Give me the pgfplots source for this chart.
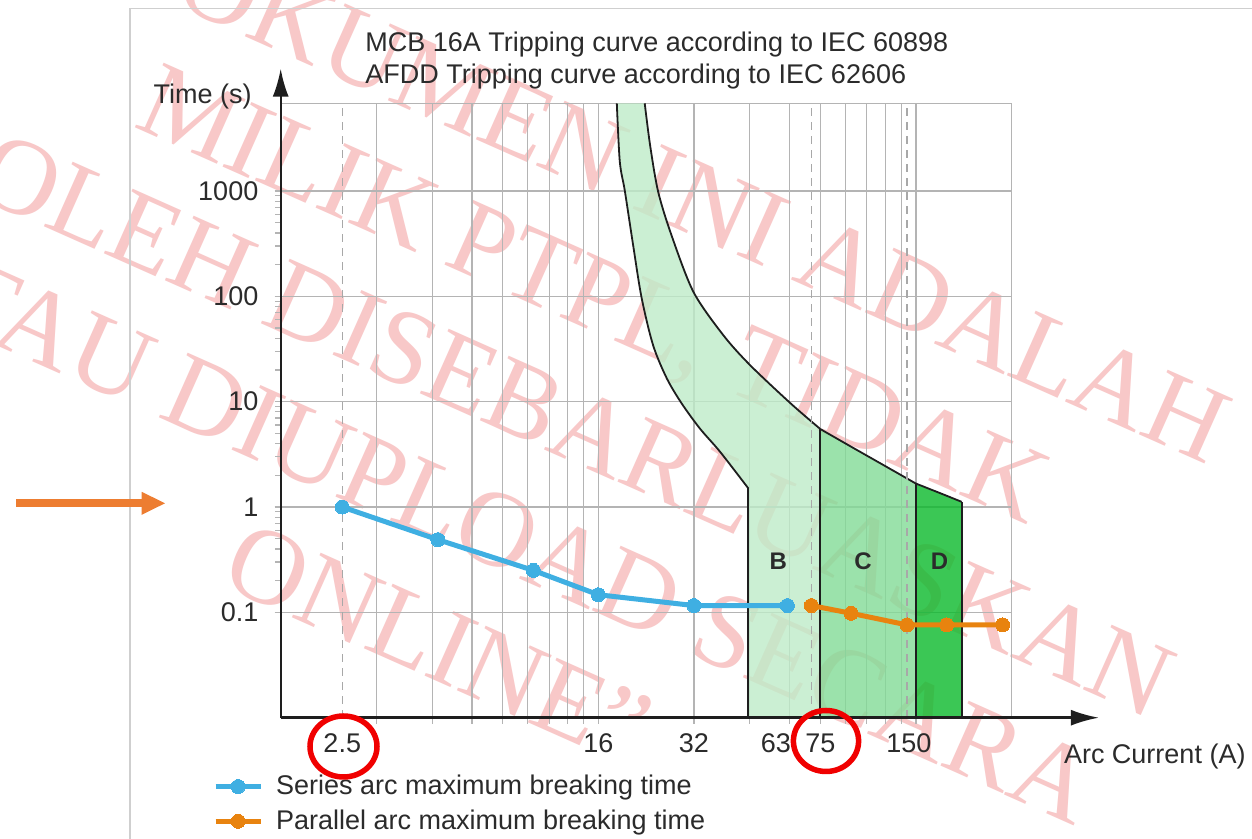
\documentclass[border=0pt]{standalone}
\usepackage{pgfplots}
\pgfplotsset{compat=1.18}
\usetikzlibrary{arrows.meta}
\usepackage{fontspec}
\setmainfont{Liberation Sans}
\newfontfamily\wmfont{Liberation Serif}
\definecolor{gridc}{HTML}{B4B4B4}
\definecolor{dashc}{HTML}{A8A8A8}
\definecolor{framec}{HTML}{CFCFCF}
\definecolor{txt}{HTML}{2B2B2B}
\definecolor{axc}{HTML}{1E1E1E}
\definecolor{zonec}{HTML}{1E1E1E}
\definecolor{serc}{HTML}{3FAFE2}
\definecolor{parc}{HTML}{E8830F}
\definecolor{Bc}{HTML}{BFECC9}
\definecolor{Cc}{HTML}{82DB96}
\definecolor{Dc}{HTML}{0BBA2B}
\definecolor{arrowc}{HTML}{ED7D31}
\definecolor{circc}{HTML}{F00000}
\definecolor{wmc}{HTML}{F8C8C8}
\begin{document}
\begin{tikzpicture}
\useasboundingbox (-140.35pt,-60.65pt) rectangle (485.65pt,358.85pt);
\fill[white] (-140.35pt,-60.65pt) rectangle (485.65pt,358.85pt);
% watermark (drawn underneath the chart)
\begin{scope}[blend group=multiply]
\node[rotate=-24, align=center, text=wmc, inner sep=0pt,
      font=\wmfont\fontsize{54}{63.9}\selectfont] at (130.9pt,153.85pt)
  {“DOKUMEN INI ADALAH\\MILIK PTPL, TIDAK\\BOLEH DISEBARLUASKAN\\ATAU DIUPLOAD SECARA\\ONLINE”};
\end{scope}
\draw[framec, line width=0.6pt] (-75.35pt,-60.65pt) -- (-75.35pt,354.7pt) -- (485.65pt,354.7pt);
\begin{axis}[
  scale only axis, width=365.4pt, height=307.2pt,
  xmode=log, ymode=log,
  xmin=1.6, xmax=320, ymin=0.01, ymax=6800,
  clip=false,
  axis line style={draw=gridc, line width=0.6pt},
  xtick={3.2,4.8,6.4,8,9.6,11.2,12.8,14.4,16,32,48,64,80,96,112,128,144,160},
  xticklabels={},
  minor xtick={}, minor ytick={},
  ytick={0.1,1,10,100,1000},
  yticklabels={0.1,1,10,100,1000},
  grid=major, major grid style={draw=gridc, line width=0.6pt},
  tick align=outside, major tick length=3pt,
  tick style={draw=gridc, line width=0.6pt},
  xtick pos=left, ytick pos=left,
  extra x ticks={2.5,16,32,58,80,152},
  extra x tick labels={2.5,16,32,63,75,150},
  extra x tick style={grid=none, major tick length=0pt},
  tick label style={font=\fontsize{13.5}{16}\selectfont, text=txt},
  yticklabel style={inner sep=0pt, xshift=-8pt},
  xticklabel style={inner sep=0pt, yshift=-8pt},
  legend style={at={(axis description cs:-0.093,-0.1403)}, anchor=west,
    draw=none, fill=none, inner sep=0pt,
    font=\fontsize{13.5}{16}\selectfont, text=txt,
    nodes={inner sep=2pt}, row sep=2.1pt,
    /tikz/every odd column/.append style={column sep=4.5pt}},
  legend cell align=left,
  legend image code/.code={\draw[mark repeat=2,mark phase=2] plot coordinates {(0pt,0pt) (11.25pt,0pt) (22.5pt,0pt)};},
]
% zone fills
\addplot[fill=Bc, fill opacity=0.8, draw=none, forget plot] coordinates {
 (18.3,6800) (18.7,1900) (19.4,1000) (20.6,305) (21.9,97) (23.8,34.4) (26.3,16.6) (29.3,9.6) (33.4,5.57) (38.7,3.34) (47.5,1.5)
 (47.5,0.01) (80,0.01) (80,5.5)
 (64.6,9.6) (48.1,22.2) (39.6,42.8) (31.9,110) (27.2,380) (24.7,980) (23.3,2700) (22.4,6800)} --cycle;
\addplot[fill=Cc, fill opacity=0.8, draw=none, forget plot] coordinates {
 (80,0.01) (80,5.5) (100,3.74) (128,2.45) (160,1.67) (160,0.01)} --cycle;
\addplot[fill=Dc, fill opacity=0.8, draw=none, forget plot] coordinates {
 (160,0.01) (160,1.67) (190,1.36) (223,1.12) (223,0.01)} --cycle;
% MCB curves
\addplot[smooth, draw=zonec, line width=0.9pt, forget plot] coordinates {
 (18.3,6800) (18.7,1900) (19.4,1000) (20.6,305) (21.9,97) (23.8,34.4) (26.3,16.6) (29.3,9.6) (33.4,5.57) (38.7,3.34) (47.5,1.5)};
\addplot[smooth, draw=zonec, line width=0.9pt, forget plot] coordinates {
 (22.4,6800) (23.3,2700) (24.7,980) (27.2,380) (31.9,110) (39.6,42.8) (48.1,22.2) (64.6,9.6) (80,5.5)};
\addplot[smooth, draw=zonec, line width=0.9pt, forget plot] coordinates {
 (80,5.5) (100,3.74) (128,2.45) (160,1.67)};
\addplot[smooth, draw=zonec, line width=0.9pt, forget plot] coordinates {
 (160,1.67) (190,1.36) (223,1.12)};
\addplot[draw=zonec, line width=0.9pt, forget plot] coordinates {(47.5,0.01) (47.5,1.5)};
\addplot[draw=zonec, line width=0.9pt, forget plot] coordinates {(80,0.01) (80,5.5)};
\addplot[draw=zonec, line width=0.9pt, forget plot] coordinates {(160,0.01) (160,1.67)};
\addplot[draw=zonec, line width=0.9pt, forget plot] coordinates {(223,0.01) (223,1.12)};
% dashed reference lines
\addplot[draw=dashc, line width=0.6pt, dash pattern=on 4pt off 3pt, forget plot] coordinates {(2.5,0.01) (2.5,6800)};
\addplot[draw=dashc, line width=0.6pt, dash pattern=on 4pt off 3pt, forget plot] coordinates {(75,0.01) (75,6800)};
\addplot[draw=dashc, line width=0.6pt, dash pattern=on 4pt off 3pt, forget plot] coordinates {(150,0.01) (150,6800)};
% zone letters
\node[font=\bfseries\fontsize{12}{14}\selectfont, text=txt] at (axis cs:59,0.307) {B};
\node[font=\bfseries\fontsize{12}{14}\selectfont, text=txt] at (axis cs:109,0.307) {C};
\node[font=\bfseries\fontsize{12}{14}\selectfont, text=txt] at (axis cs:190,0.307) {D};
% series
\addplot[serc, line width=2.5pt, mark=*, mark size=3.5pt, mark options={solid, fill=serc, draw=serc, line width=0pt}] coordinates {
 (2.5,1) (5,0.49) (10,0.25) (16,0.147) (32,0.116) (63,0.116)};
\addlegendentry{Series arc maximum breaking time}
\addplot[parc, line width=2.5pt, mark=*, mark size=3.5pt, mark options={solid, fill=parc, draw=parc, line width=0pt}] coordinates {
 (75,0.116) (100,0.098) (150,0.076) (200,0.076) (300,0.076)};
\addlegendentry{Parallel arc maximum breaking time}
% axes with arrows
\draw[axc, line width=1.2pt, -{Latex[length=14pt,width=8pt]}] (axis cs:1.6,0.01) -- (axis cs:603,0.01);
\draw[axc, line width=1.2pt, -{Latex[length=14pt,width=8pt]}] (axis cs:1.6,0.01) -- (axis cs:1.6,14500);
\end{axis}
% titles and labels
\node[anchor=base west, font=\fontsize{13.5}{16}\selectfont, text=txt, inner sep=0pt] at (42.15pt,333pt) {MCB 16A Tripping curve according to IEC 60898};
\node[anchor=base west, font=\fontsize{13.5}{16}\selectfont, text=txt, inner sep=0pt] at (42.15pt,317.2pt) {AFDD Tripping curve according to IEC 62606};
\node[anchor=base east, font=\fontsize{13.5}{16}\selectfont, text=txt, inner sep=0pt] at (-14.35pt,307.2pt) {Time (s)};
\node[anchor=base west, font=\fontsize{13.5}{16}\selectfont, text=txt, inner sep=0pt] at (391.45pt,-22.8pt) {Arc Current (A)};
% annotations
\draw[circc, line width=2.75pt] (31.4pt,-14.4pt) ellipse [x radius=16.75pt, y radius=15.25pt];
\draw[circc, line width=2.75pt] (272.65pt,-11.65pt) ellipse [x radius=16.3pt, y radius=15.25pt];
\fill[arrowc] (-132.5pt,105.2pt) rectangle (-69.5pt,109.2pt);
\fill[arrowc] (-69.5pt,101.45pt) -- (-57.85pt,107.2pt) -- (-69.5pt,112.95pt) -- cycle;
\end{tikzpicture}
\end{document}
